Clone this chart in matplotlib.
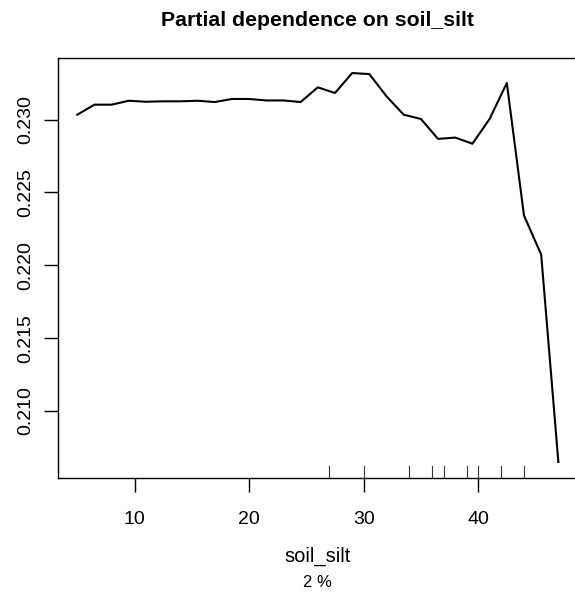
import matplotlib
matplotlib.use("Agg")
import matplotlib.pyplot as plt

plt.rcParams['font.family'] = ['Liberation Sans', 'DejaVu Sans']

# Partial dependence grid (soil_silt) and predicted values
x_vals = [5.0, 6.5, 8.0, 9.5, 11.0, 12.5, 14.0, 15.5, 17.0, 18.5, 20.0, 21.5,
          23.0, 24.5, 26.0, 27.5, 29.0, 30.5, 32.0, 33.5, 35.0, 36.5, 38.0,
          39.5, 41.0, 42.5, 44.0, 45.5, 47.0]
y_vals = [0.23034, 0.23103, 0.23103, 0.23130, 0.23123, 0.23126, 0.23126,
          0.23130, 0.23121, 0.23142, 0.23142, 0.23132, 0.23132, 0.23121,
          0.23222, 0.23183, 0.23320, 0.23313, 0.23160, 0.23034, 0.23005,
          0.22868, 0.22877, 0.22835, 0.23005, 0.23252, 0.22342, 0.22074,
          0.20650]
rug_vals = [27, 30, 34, 36, 37, 39, 40, 42, 44]
x_ticks = [10, 20, 30, 40]
y_ticks = [0.210, 0.215, 0.220, 0.225, 0.230]
y_tick_labels = ["0.210", "0.215", "0.220", "0.225", "0.230"]

W, H = 575, 595
fig = plt.figure(figsize=(W / 100, H / 100), dpi=100)
left, right, top, bottom = 58, 577.6, 57.5, 477.5
ax = fig.add_axes([left / W, (H - bottom) / H, (right - left) / W, (bottom - top) / H])

ax.plot(x_vals, y_vals, color='black', lw=1.5)

# R-style 4% range extension
xr = max(x_vals) - min(x_vals)
yr = max(y_vals) - min(y_vals)
ax.set_xlim(min(x_vals) - 0.04 * xr, max(x_vals) + 0.04 * xr)
ax.set_ylim(min(y_vals) - 0.04 * yr, max(y_vals) + 0.04 * yr)

# rug
for r in rug_vals:
    ax.plot([r, r], [0, 0.027], transform=ax.get_xaxis_transform(),
            color='#333333', lw=0.8, clip_on=False)

ax.set_xticks(x_ticks)
ax.set_xticklabels([str(t) for t in x_ticks])
ax.set_yticks(y_ticks)
ax.set_yticklabels(y_tick_labels, rotation=90, va='center')
ax.tick_params(axis='both', direction='out', length=10, width=1,
               labelsize=14, colors='black')
ax.tick_params(axis='x', pad=14)
ax.tick_params(axis='y', pad=7)
for s in ax.spines.values():
    s.set_linewidth(1.0)
    s.set_color('black')

fig.text((left + right) / 2 / W, 1 - 20 / H, "Partial dependence on soil_silt",
         ha='center', va='center', fontsize=15.3, fontweight='bold')
fig.text((left + right) / 2 / W, 1 - 556.7 / H, "soil_silt",
         ha='center', va='center', fontsize=14.5)
fig.text((left + right) / 2 / W, 1 - 582.7 / H, "2 %",
         ha='center', va='center', fontsize=12)

fig.savefig("out.png", dpi=100)
